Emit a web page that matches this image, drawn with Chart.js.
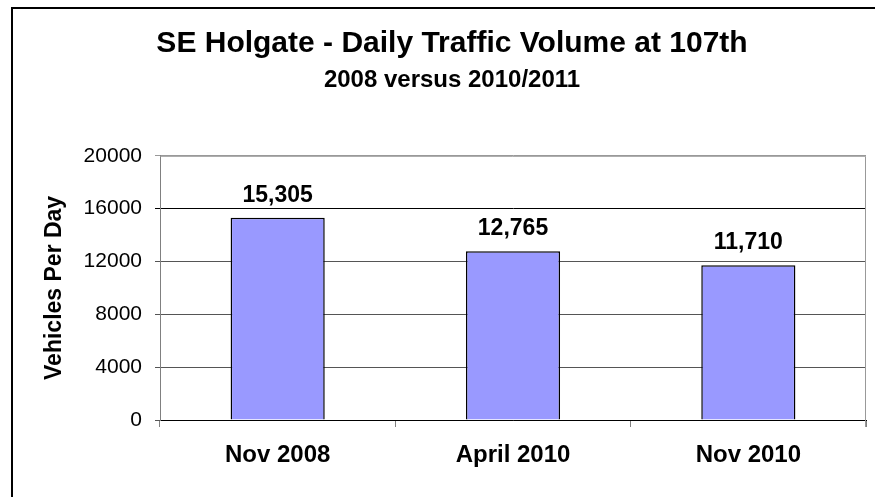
<!DOCTYPE html>
<html>
<head>
<meta charset="utf-8">
<title>SE Holgate - Daily Traffic Volume at 107th</title>
<script src="https://cdn.jsdelivr.net/npm/chart.js@4.4.1/dist/chart.umd.min.js"></script>
<style>
  html, body { margin: 0; padding: 0; background: #fff; }
  #wrap { width: 875px; height: 497px; position: relative; }
</style>
</head>
<body>
<div id="wrap"><canvas id="chart" width="875" height="497"></canvas></div>
<script>
const categories = ["Nov 2008", "April 2010", "Nov 2010"];
const vehiclesPerDay = [15305, 12765, 11710];
const yTicks = [0, 4000, 8000, 12000, 16000, 20000];

const FONT = "'Liberation Sans', Arial, sans-serif";

// white background + the chart frame (left and top edges visible, rest is cropped)
const framePlugin = {
  id: "framePlugin",
  beforeDraw: (chart) => {
    const ctx = chart.ctx;
    ctx.save();
    ctx.fillStyle = "#fff";
    ctx.fillRect(0, 0, chart.width, chart.height);
    ctx.strokeStyle = "#000";
    ctx.lineWidth = 2;
    ctx.beginPath();
    ctx.moveTo(12, chart.height + 5);
    ctx.lineTo(12, 8);
    ctx.lineTo(chart.width + 5, 8);
    ctx.stroke();
    ctx.restore();
  },
  afterDatasetsDraw: (chart) => {
    // grey top and right edges of the plot area
    const a = chart.chartArea;
    const ctx = chart.ctx;
    ctx.save();
    ctx.strokeStyle = "#999";
    ctx.lineWidth = 1;
    ctx.beginPath();
    ctx.moveTo(a.left, a.top + 0.5);
    ctx.lineTo(a.right - 0.5, a.top + 0.5);
    ctx.lineTo(a.right - 0.5, a.bottom + 7);
    ctx.stroke();
    ctx.restore();
  },
};

// value labels above the bars
const valueLabels = {
  id: "valueLabels",
  afterDatasetsDraw: (chart) => {
    const ctx = chart.ctx;
    const meta = chart.getDatasetMeta(0);
    ctx.save();
    ctx.fillStyle = "#000";
    ctx.font = "bold 23px " + FONT;
    ctx.textAlign = "center";
    ctx.textBaseline = "alphabetic";
    meta.data.forEach((bar, i) => {
      const v = chart.data.datasets[0].data[i];
      ctx.fillText(v.toLocaleString("en-US"), bar.x, bar.y - 16);
    });
    ctx.restore();
  },
};

new Chart(document.getElementById("chart"), {
  type: "bar",
  data: {
    labels: categories,
    datasets: [
      {
        data: vehiclesPerDay,
        backgroundColor: "#9999ff",
        borderColor: "#000",
        borderWidth: 1.5,
        categoryPercentage: 1,
        barPercentage: 0.4,
      },
    ],
  },
  options: {
    responsive: false,
    animation: false,
    // the original frame runs past the right edge, so titles sit a bit right of the canvas centre
    layout: { padding: { top: 0, right: 9, bottom: 0, left: 38 } },
    plugins: {
      legend: { display: false },
      tooltip: { enabled: false },
      title: {
        display: true,
        text: "SE Holgate - Daily Traffic Volume at 107th",
        color: "#000",
        font: { family: FONT, size: 30, weight: "bold" },
        padding: { top: 26, bottom: 0 },
      },
      subtitle: {
        display: true,
        text: "2008 versus 2010/2011",
        color: "#000",
        font: { family: FONT, size: 24, weight: "bold" },
        padding: { top: 4, bottom: 61 },
      },
    },
    scales: {
      x: {
        offset: true,
        afterFit: (scale) => {
          scale.height = 77;
        },
        grid: {
          drawOnChartArea: false,
          drawTicks: true,
          tickLength: 7,
          color: "#808080",
          offset: true,
        },
        border: { display: true, color: "#000", width: 1 },
        ticks: {
          color: "#000",
          padding: 14,
          font: { family: FONT, size: 24, weight: "bold" },
        },
      },
      y: {
        min: 0,
        max: 20000,
        afterFit: (scale) => {
          scale.width = 122;
        },
        afterBuildTicks: (scale) => {
          scale.ticks = yTicks.map((v) => ({ value: v }));
        },
        grid: {
          color: (c) =>
            c.tick && c.tick.value === 20000 ? "#999" : c.tick && c.tick.value === 16000 ? "#000" : "#555",
          tickLength: 5,
          drawTicks: true,
        },
        border: { display: true, color: "#808080", width: 1 },
        ticks: {
          color: "#000",
          padding: 13,
          font: { family: FONT, size: 21 },
          callback: (v) => String(v),
        },
        title: {
          display: true,
          text: "Vehicles Per Day",
          color: "#000",
          font: { family: FONT, size: 23, weight: "bold" },
          padding: { top: 3, bottom: 0 },
        },
      },
    },
  },
  plugins: [framePlugin, valueLabels],
});
</script>
</body>
</html>
